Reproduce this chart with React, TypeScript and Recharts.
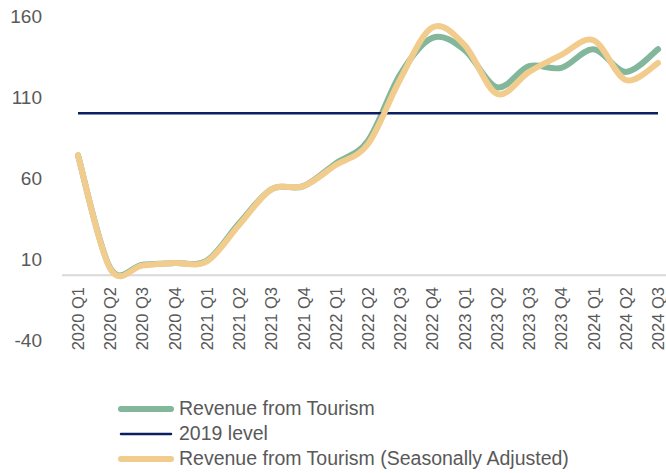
import React from 'react';
import { LineChart, Line, XAxis, YAxis, ReferenceLine, Legend } from 'recharts';

const quarters = [
  '2020 Q1', '2020 Q2', '2020 Q3', '2020 Q4',
  '2021 Q1', '2021 Q2', '2021 Q3', '2021 Q4',
  '2022 Q1', '2022 Q2', '2022 Q3', '2022 Q4',
  '2023 Q1', '2023 Q2', '2023 Q3', '2023 Q4',
  '2024 Q1', '2024 Q2', '2024 Q3',
];
const revenue = [74, 4.5, 6.5, 7.5, 9, 32, 53, 55, 69, 83, 124, 146.5, 139, 116, 129, 128, 139.5, 125.5, 139.5];
const revenueSA = [74, 4, 6, 7.5, 8.5, 31, 53, 55, 68, 81, 121, 153, 142, 112, 125.5, 136, 145, 120.5, 131];
const level2019 = [100, 100, 100, 100, 100, 100, 100, 100, 100, 100, 100, 100, 100, 100, 100, 100, 100, 100, 100];
const yTicks = [-40, 10, 60, 110, 160];
const legendOrder = ['rev', 'lvl', 'sa'];

const data = quarters.map((q, i) => ({
  q,
  rev: revenue[i],
  lvl: level2019[i],
  sa: revenueSA[i],
}));

const FONT = '"Liberation Sans", Arial, sans-serif';
const TEXT = '#595959';
const GREEN = '#82b79b';
const NAVY = '#0b1f63';
const YELLOW = '#f2cc8d';

// Excel-like smoothing (Catmull-Rom as cubic Bezier)
function excelCurve(context: any) {
  let pts: number[][] = [];
  return {
    areaStart() {},
    areaEnd() {},
    lineStart() { pts = []; },
    lineEnd() {
      const n = pts.length;
      if (!n) return;
      context.moveTo(pts[0][0], pts[0][1]);
      for (let i = 0; i < n - 1; i++) {
        const p0 = pts[i - 1] || pts[i];
        const p1 = pts[i];
        const p2 = pts[i + 1];
        const p3 = pts[i + 2] || pts[i + 1];
        context.bezierCurveTo(
          p1[0] + (p2[0] - p0[0]) / 6, p1[1] + (p2[1] - p0[1]) / 6,
          p2[0] - (p3[0] - p1[0]) / 6, p2[1] - (p3[1] - p1[1]) / 6,
          p2[0], p2[1]
        );
      }
    },
    point(x: number, y: number) { pts.push([+x, +y]); },
  };
}

const XTick = (props: any) => {
  const { x, payload } = props;
  return (
    <g transform={`translate(${x},287)`}>
      <text transform="rotate(-90)" textAnchor="end" dy="0.36em" fontSize={16.5} fill={TEXT} fontFamily={FONT}>
        {payload.value}
      </text>
    </g>
  );
};

const widths: Record<string, number> = { rev: 6, lvl: 2.5, sa: 6 };

const renderLegend = (props: any) => {
  const payload = [...(props.payload || [])].sort(
    (a: any, b: any) => legendOrder.indexOf(a.dataKey) - legendOrder.indexOf(b.dataKey)
  );
  return (
    <div style={{ fontFamily: FONT }}>
      {payload.map((p: any) => (
        <div key={p.dataKey} style={{ display: 'flex', alignItems: 'center', height: 25 }}>
          <svg width={56} height={10} style={{ display: 'block' }}>
            <line x1={3} y1={5} x2={53} y2={5} stroke={p.color} strokeWidth={widths[p.dataKey]} strokeLinecap="round" />
          </svg>
          <span style={{ marginLeft: 5, fontSize: 19.5, color: TEXT, whiteSpace: 'nowrap' }}>{p.value}</span>
        </div>
      ))}
    </div>
  );
};

export default function App() {
  return (
    <div style={{ position: 'fixed', left: 0, top: 0, background: '#fff' }}>
      <LineChart width={666} height={473} data={data} margin={{ top: 16, right: 0, bottom: 0, left: 0 }}>
        <XAxis
          dataKey="q"
          height={133}
          interval={0}
          axisLine={false}
          tickLine={false}
          padding={{ left: 16, right: 8 }}
          tick={<XTick />}
        />
        <YAxis
          width={62}
          domain={[-40, 160]}
          ticks={yTicks}
          axisLine={false}
          tickLine={false}
          tickSize={6}
          tickMargin={14}
          tick={{ fontSize: 19, fill: TEXT, fontFamily: FONT }}
        />
        <ReferenceLine y={0} stroke="#d9d9d9" strokeWidth={2} />
        <Line dataKey="rev" name="Revenue from Tourism" stroke={GREEN} strokeWidth={6} dot={false} type={excelCurve as any} isAnimationActive={false} strokeLinecap="round" />
        <Line dataKey="lvl" name="2019 level" stroke={NAVY} strokeWidth={2.5} dot={false} type="linear" isAnimationActive={false} />
        <Line dataKey="sa" name="Revenue from Tourism (Seasonally Adjusted)" stroke={YELLOW} strokeWidth={6} dot={false} type={excelCurve as any} isAnimationActive={false} strokeLinecap="round" />
        <Legend
          layout="vertical"
          align="center"
          verticalAlign="middle"
          itemSorter={null as any}
          wrapperStyle={{ left: 118, top: 396, width: 'auto' }}
          content={renderLegend}
        />
      </LineChart>
    </div>
  );
}
